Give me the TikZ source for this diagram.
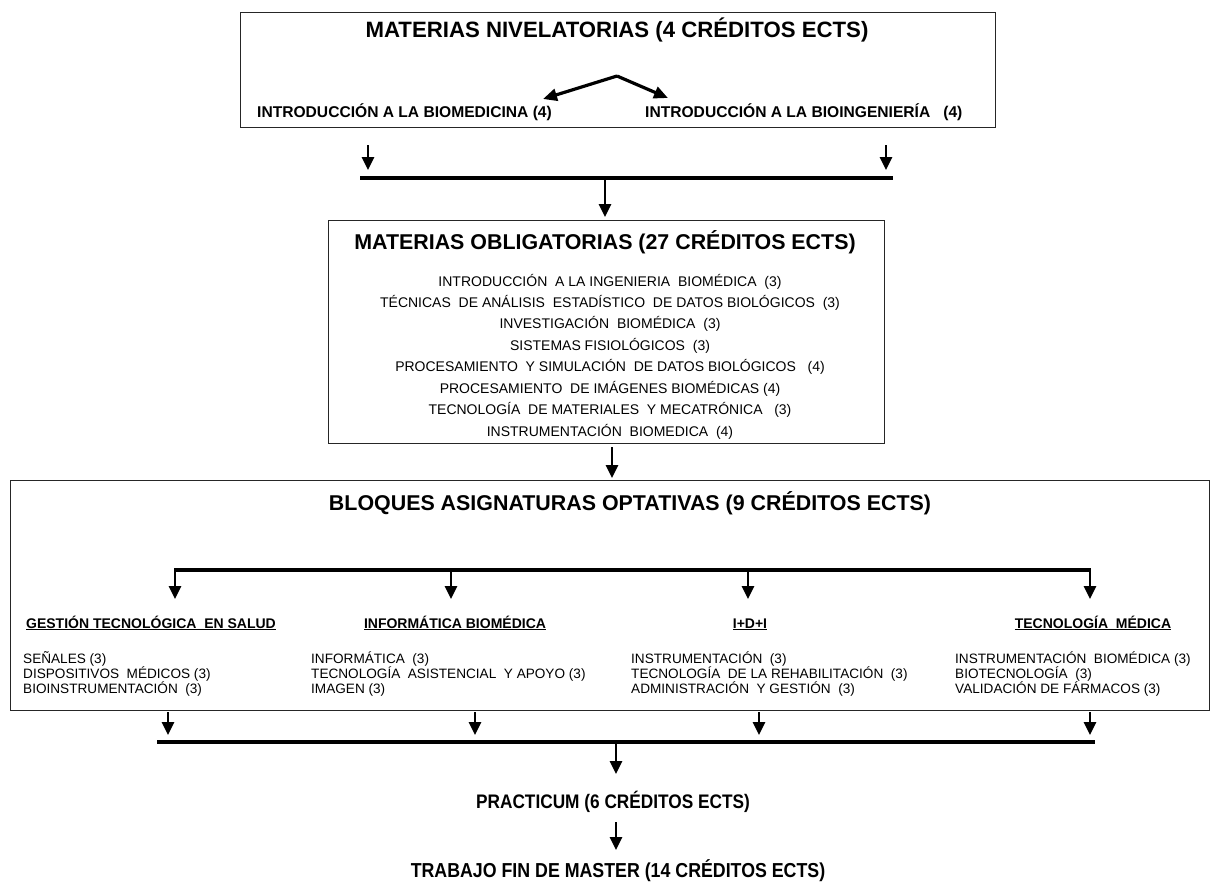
\documentclass[tikz,border=0pt]{standalone}
\usepackage{fontspec}
\setmainfont{Liberation Sans}
\newfontfamily\narrowfont{Liberation Sans}[FakeStretch=0.88]
\usetikzlibrary{arrows.meta}
\begin{document}
\begin{tikzpicture}[x=1pt,y=-1pt,
  box/.style={draw=black!85, line width=1pt, inner sep=0pt, anchor=north west},
  bar/.style={line width=4pt},
  arr/.style={line width=2.6pt, -{Triangle[width=12pt,length=13pt]}},
  diag/.style={line width=3.2pt, -{Triangle[width=12pt,length=14pt]}},
  txt/.style={inner sep=0pt, anchor=base},
  ttl/.style={txt, font=\bfseries\fontsize{21.4}{24}\selectfont},
  ttln/.style={txt, font=\narrowfont\bfseries\fontsize{19.6}{22}\selectfont},
  sub/.style={txt, anchor=base west, font=\bfseries\fontsize{15.6}{18}\selectfont},
  row/.style={txt, font=\fontsize{14}{16}\selectfont},
  colh/.style={txt, font=\bfseries\fontsize{14}{16}\selectfont},
  item/.style={txt, anchor=base west, font=\fontsize{13.6}{15}\selectfont}
]
\useasboundingbox[fill=white] (0,0) rectangle (1211,886);

% ---------- top box ----------
\node[box, minimum width=755pt, minimum height=115pt] (topbox) at (240,12) {};
\node[txt, font=\bfseries\fontsize{22.2}{24}\selectfont] (nivel) at (617,37.5) {MATERIAS NIVELATORIAS (4 CRÉDITOS ECTS)};
\node[sub] (biomed) at (257,117.5) {INTRODUCCIÓN A LA BIOMEDICINA (4)};
\node[sub] (bioing) at (645,117.5) {INTRODUCCIÓN A LA BIOINGENIERÍA\ \ \ (4)};
\coordinate (apex) at (617,76);
\coordinate (al) at (543,99);
\coordinate (ar) at (668,98);
\draw[diag] (apex) -- (al);
\draw[diag] (apex) -- (ar);

% ---------- connectors top -> middle ----------
\coordinate (t1s) at (368,145); \coordinate (t1e) at (368,170);
\coordinate (t2s) at (886,145); \coordinate (t2e) at (886,170);
\coordinate (tbl) at (360,178); \coordinate (tbr) at (893,178);
\coordinate (tcs) at (605,178); \coordinate (tce) at (605,217);
\draw[arr] (t1s) -- (t1e);
\draw[arr] (t2s) -- (t2e);
\draw[bar] (tbl) -- (tbr);
\draw[arr] (tcs) -- (tce);

% ---------- middle box ----------
\node[box, minimum width=556pt, minimum height=223pt] (midbox) at (328,220) {};
\node[ttl] (oblig) at (605,249.5) {MATERIAS OBLIGATORIAS (27 CRÉDITOS ECTS)};
\node[row] (r1) at (610,286) {INTRODUCCIÓN\ \ A LA INGENIERIA\ \ BIOMÉDICA\ \ (3)};
\node[row] (r2) at (610,307.4) {TÉCNICAS\ \ DE ANÁLISIS\ \ ESTADÍSTICO\ \ DE DATOS BIOLÓGICOS\ \ (3)};
\node[row] (r3) at (610,328.9) {INVESTIGACIÓN\ \ BIOMÉDICA\ \ (3)};
\node[row] (r4) at (610,350.3) {SISTEMAS FISIOLÓGICOS\ \ (3)};
\node[row] (r5) at (610,371.7) {PROCESAMIENTO\ \ Y SIMULACIÓN\ \ DE DATOS BIOLÓGICOS\ \ \ (4)};
\node[row] (r6) at (610,393.1) {PROCESAMIENTO\ \ DE IMÁGENES BIOMÉDICAS (4)};
\node[row] (r7) at (610,414.6) {TECNOLOGÍA\ \ DE MATERIALES\ \ Y MECATRÓNICA\ \ \ (3)};
\node[row] (r8) at (610,436) {INSTRUMENTACIÓN\ \ BIOMEDICA\ \ (4)};

% ---------- connector middle -> bottom ----------
\coordinate (ms) at (612,447); \coordinate (me) at (612,478);
\draw[arr] (ms) -- (me);

% ---------- bottom box ----------
\node[box, minimum width=1199pt, minimum height=230pt] (botbox) at (10,480) {};
\node[ttl] (bloques) at (630,510) {BLOQUES ASIGNATURAS OPTATIVAS (9 CRÉDITOS ECTS)};
\coordinate (bl) at (175,570); \coordinate (br) at (1090,570);
\draw[bar] (bl) -- (br);
\foreach \n/\x in {a/175,b/451,c/748,d/1090}{
  \coordinate (s\n) at (\x,568); \coordinate (e\n) at (\x,599);
  \draw[arr] (s\n) -- (e\n);
}
\node[colh] (h1) at (151,628) {\underline{GESTIÓN TECNOLÓGICA\ \ EN SALUD}};
\node[colh] (h2) at (455,628) {\underline{INFORMÁTICA BIOMÉDICA}};
\node[colh] (h3) at (750,628) {\underline{I+D+I}};
\node[colh] (h4) at (1093,628) {\underline{TECNOLOGÍA\ \ MÉDICA}};

\node[item] (i11) at (23,663) {SEÑALES (3)};
\node[item] (i12) at (23,678) {DISPOSITIVOS\ \ MÉDICOS (3)};
\node[item] (i13) at (23,693) {BIOINSTRUMENTACIÓN\ \ (3)};
\node[item] (i21) at (311,663) {INFORMÁTICA\ \ (3)};
\node[item] (i22) at (311,678) {TECNOLOGÍA\ \ ASISTENCIAL\ \ Y APOYO (3)};
\node[item] (i23) at (311,693) {IMAGEN (3)};
\node[item] (i31) at (631,663) {INSTRUMENTACIÓN\ \ (3)};
\node[item] (i32) at (631,678) {TECNOLOGÍA\ \ DE LA REHABILITACIÓN\ \ (3)};
\node[item] (i33) at (631,693) {ADMINISTRACIÓN\ \ Y GESTIÓN\ \ (3)};
\node[item] (i41) at (955,663) {INSTRUMENTACIÓN\ \ BIOMÉDICA (3)};
\node[item] (i42) at (955,678) {BIOTECNOLOGÍA\ \ (3)};
\node[item] (i43) at (955,693) {VALIDACIÓN\ DE FÁRMACOS (3)};

% ---------- connectors bottom -> practicum ----------
\foreach \n/\x in {a/168,b/475,c/759,d/1090}{
  \coordinate (u\n) at (\x,712); \coordinate (v\n) at (\x,735);
  \draw[arr] (u\n) -- (v\n);
}
\coordinate (pl) at (157,742); \coordinate (pr) at (1095,742);
\draw[bar] (pl) -- (pr);
\coordinate (ps) at (616,742); \coordinate (pe) at (616,774);
\draw[arr] (ps) -- (pe);

\node[ttln] (practicum) at (613,808) {PRACTICUM (6 CRÉDITOS ECTS)};
\coordinate (qs) at (616,822); \coordinate (qe) at (616,850);
\draw[arr] (qs) -- (qe);
\node[ttln, font=\narrowfont\bfseries\fontsize{20.2}{22}\selectfont] (tfm) at (618,877) {TRABAJO FIN DE MASTER (14 CRÉDITOS ECTS)};
\end{tikzpicture}
\end{document}
